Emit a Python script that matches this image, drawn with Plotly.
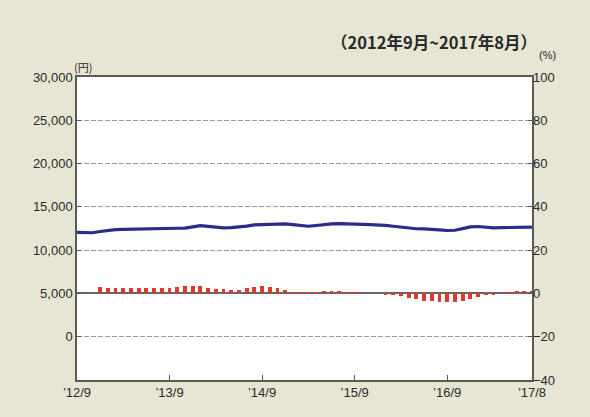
import plotly.graph_objects as go

# month index 0 = '12/9 ... 59 = '17/8
months = list(range(60))

nav_yen = [12050, 12020, 12010, 12150, 12300, 12380, 12400, 12430, 12470, 12450,
           12480, 12500, 12520, 12530, 12550, 12700, 12840, 12750, 12620, 12580,
           12600, 12650, 12780, 12920, 12960, 12990, 13010, 13030, 12950, 12820,
           12760, 12850, 12960, 13040, 13070, 13060, 13020, 12980, 12940, 12920,
           12860, 12760, 12650, 12520, 12470, 12460, 12440, 12350, 12270, 12300,
           12480, 12680, 12730, 12640, 12580, 12600, 12630, 12640, 12650, 12660]

ret_pct = [0, 0, 0, 2.8, 2.6, 2.4, 2.3, 2.3, 2.4, 2.5,
           2.6, 2.6, 2.7, 2.8, 3.4, 3.6, 3.4, 2.6, 2.2, 2.0,
           1.4, 1.8, 2.3, 3.0, 3.3, 2.9, 2.3, 1.4, 0.6, 0.5,
           0.5, 0.5, 1.2, 1.2, 1.1, 0.6, 0.3, 0, 0, 0,
           -0.6, -0.8, -1.2, -2.0, -2.8, -3.4, -3.6, -4.0, -4.0, -3.8,
           -3.4, -2.8, -1.6, -0.8, -0.3, 0, 0.8, 1.0, 1.0, 1.0]

x_tickvals = [0, 12, 24, 36, 48, 59]
x_ticktext = ["’12/9", "’13/9", "’14/9", "’15/9", "’16/9", "’17/8"]
left_ticks = [0, 5000, 10000, 15000, 20000, 25000, 30000]
left_text = ["0", "5,000", "10,000", "15,000", "20,000", "25,000", "30,000"]
right_ticks = [-40, -20, 0, 20, 40, 60, 80, 100]

period_title = "（2012年9月~2017年8月）"

fig = go.Figure()
fig.add_trace(go.Bar(x=months, y=ret_pct, yaxis="y2", width=0.5,
                     marker=dict(color="#dc3a2e", line=dict(width=0)),
                     showlegend=False))
fig.add_trace(go.Scatter(x=months, y=nav_yen, mode="lines",
                         line=dict(color="#2b2b8c", width=3.2),
                         showlegend=False))

tick_font = dict(family="Liberation Sans, Arial, sans-serif", size=13, color="#2a2a2a")

fig.update_layout(
    width=590, height=417,
    margin=dict(l=77, r=58, t=77, b=37),
    paper_bgcolor="#e7e5d3",
    plot_bgcolor="#ffffff",
    font=tick_font,
    bargap=0,
    xaxis=dict(range=[0, 59], tickvals=x_tickvals, ticktext=x_ticktext,
               showgrid=False, zeroline=False,
               showline=True, mirror=True, linecolor="#5a5a5a", linewidth=1.5,
               ticks="inside", ticklen=5, tickcolor="#555",
               tickfont=tick_font),
    yaxis=dict(range=[-5000, 30000], tickvals=left_ticks, ticktext=left_text,
               showgrid=True, gridcolor="#9a9a9a", griddash="5px,2px", gridwidth=1,
               zeroline=False,
               showline=True, mirror=True, linecolor="#5a5a5a", linewidth=1.5,
               ticks="inside", ticklen=4, tickcolor="#555",
               tickfont=tick_font),
    yaxis2=dict(range=[-40, 100], tickvals=right_ticks, overlaying="y", side="right",
                showgrid=False, zeroline=True, zerolinecolor="#666", zerolinewidth=1.5,
                showline=False, ticks="inside", ticklen=4, tickcolor="#555",
                tickfont=tick_font),
    annotations=[
        dict(text="(円)", xref="paper", yref="paper", x=-0.012, y=1.0,
             xanchor="left", yanchor="bottom", showarrow=False,
             font=dict(family="Noto Sans CJK JP", size=11, color="#2a2a2a")),
        dict(text="(%)", xref="paper", yref="paper", x=1.012, y=1.045,
             xanchor="left", yanchor="bottom", showarrow=False,
             font=dict(family="Liberation Sans", size=11, color="#2a2a2a")),
        dict(text=period_title, xref="paper", yref="paper", x=1.016, y=1.07,
             xanchor="right", yanchor="bottom", showarrow=False,
             font=dict(family="Noto Sans CJK JP", size=16.5, color="#2a2a2a",
                       weight="bold")),
    ],
)

fig.write_html("out.html",
               config={"displayModeBar": False},
               post_script="document.body.style.margin='0px';"
                           "document.body.style.background='#e7e5d3';")
